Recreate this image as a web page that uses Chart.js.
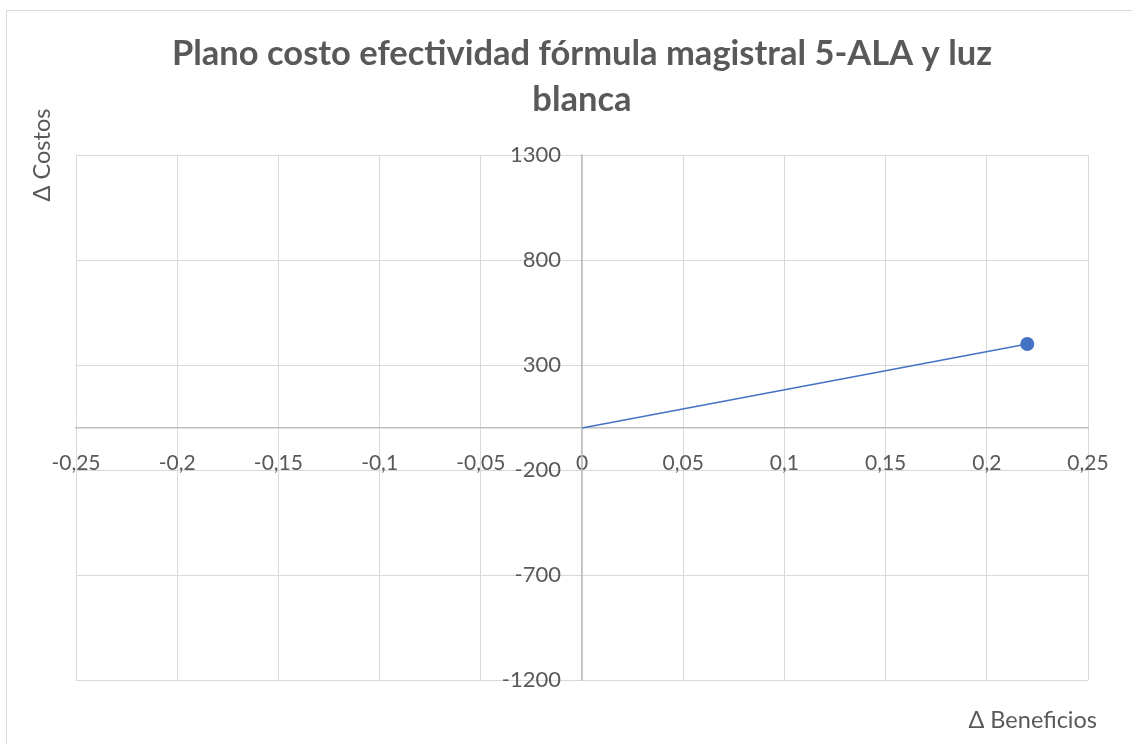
<!DOCTYPE html>
<html>
<head>
<meta charset="utf-8">
<script src="https://cdn.jsdelivr.net/npm/chart.js@4"></script>
<style>
  html, body { margin: 0; padding: 0; background: #fff; }
  #wrap { width: 1132px; height: 744px; position: relative; }
</style>
</head>
<body>
<div id="wrap"><canvas id="ceChart"></canvas></div>
<script>
const titleLines = ["Plano costo efectividad fórmula magistral 5-ALA y luz", "blanca"];
const xTitle = "Δ Beneficios";
const yTitle = "Δ Costos";

// incremental benefit / cost points
const benefits = [0, 0.22];
const costs = [0, 400];

const xTicks = [-0.25, -0.2, -0.15, -0.1, -0.05, 0, 0.05, 0.1, 0.15, 0.2, 0.25];
const xTickLabels = ["-0,25", "-0,2", "-0,15", "-0,1", "-0,05", "0", "0,05", "0,1", "0,15", "0,2", "0,25"];
const yTicks = [-1200, -700, -200, 300, 800, 1300];
const yTickLabels = ["-1200", "-700", "-200", "300", "800", "1300"];

const textColor = "#595959";
const gridColor = "#d9d9d9";
const axisColor = "#bfbfbf";
const fontFamily = "Lato, 'Open Sans', sans-serif";

const points = benefits.map((b, i) => ({ x: b, y: costs[i] }));

// frame, y label gap, axis titles
const extras = {
  id: "extras",
  beforeDraw(chart) {
    const ctx = chart.ctx;
    ctx.save();
    ctx.fillStyle = "#fff";
    ctx.fillRect(0, 0, chart.width, chart.height);
    ctx.strokeStyle = gridColor;
    ctx.lineWidth = 1;
    ctx.strokeRect(6.5, 10.5, chart.width + 20, chart.height + 20);
    ctx.restore();

    // centred y axis ignores ticks.padding, so push labels left by hand
    const items = chart.scales.y.getLabelItems(chart.chartArea);
    items.forEach(it => {
      if (!it._shifted) {
        it.options.translation[0] -= 21;
        it._shifted = true;
      }
    });
  },
  afterDraw(chart) {
    const ctx = chart.ctx;
    const area = chart.chartArea;
    ctx.save();
    ctx.fillStyle = textColor;
    ctx.font = "23.5px " + fontFamily;
    ctx.textBaseline = "middle";
    ctx.textAlign = "right";
    ctx.fillText(xTitle, area.right + 9, area.bottom + 40);
    ctx.translate(42, area.top);
    ctx.rotate(-Math.PI / 2);
    ctx.textAlign = "center";
    ctx.fillText(yTitle, 0, 0);
    ctx.restore();
  }
};

new Chart(document.getElementById("ceChart"), {
  type: "scatter",
  data: {
    datasets: [{
      data: points,
      showLine: true,
      borderColor: "#4472c4",
      backgroundColor: "#4472c4",
      borderWidth: 1.5,
      pointRadius: (c) => (c.dataIndex === 0 ? 0 : 7),
      pointHoverRadius: (c) => (c.dataIndex === 0 ? 0 : 7),
      pointBorderWidth: 0,
      clip: false
    }]
  },
  options: {
    responsive: true,
    maintainAspectRatio: false,
    animation: false,
    layout: { padding: { left: 76, right: 44, top: 0, bottom: 64 } },
    plugins: {
      legend: { display: false },
      tooltip: { enabled: false },
      title: {
        display: true,
        text: titleLines,
        color: textColor,
        font: { family: fontFamily, size: 34.5, weight: "bold", lineHeight: 46 / 34.5 },
        padding: { top: 31, bottom: 32 }
      }
    },
    scales: {
      x: {
        type: "linear",
        min: -0.25,
        max: 0.25,
        position: { y: 0 },
        afterBuildTicks: (scale) => { scale.ticks = xTicks.map(v => ({ value: v })); },
        ticks: {
          autoSkip: false,
          maxRotation: 0,
          padding: 23,
          color: textColor,
          font: { family: fontFamily, size: 21 },
          callback: (v, i) => xTickLabels[i]
        },
        grid: { color: gridColor, lineWidth: 1, drawTicks: false },
        border: { color: axisColor, width: 1.5 }
      },
      y: {
        type: "linear",
        min: -1200,
        max: 1300,
        position: { x: 0 },
        afterBuildTicks: (scale) => { scale.ticks = yTicks.map(v => ({ value: v })); },
        ticks: {
          autoSkip: false,
          color: textColor,
          font: { family: fontFamily, size: 22 },
          callback: (v, i) => yTickLabels[i]
        },
        grid: { color: gridColor, lineWidth: 1, drawTicks: false },
        border: { color: axisColor, width: 1.5 }
      }
    }
  },
  plugins: [extras]
});
</script>
</body>
</html>
